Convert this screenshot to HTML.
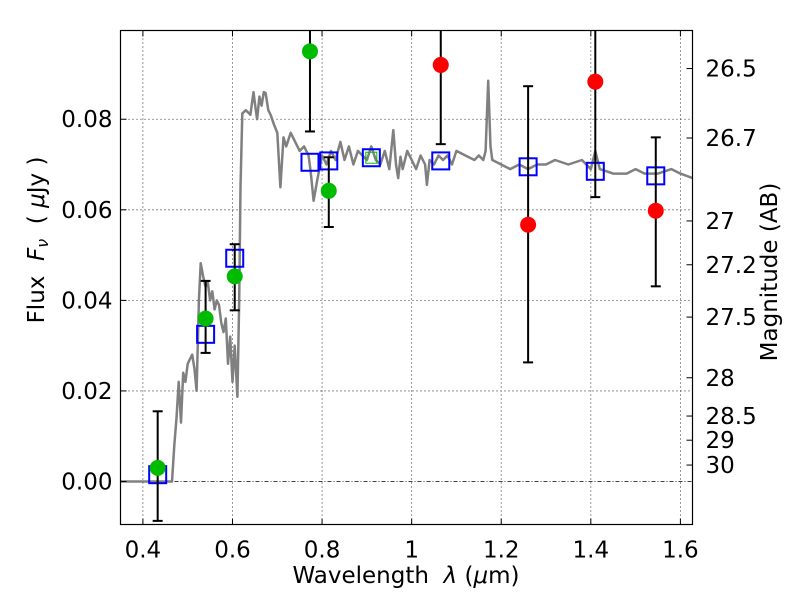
<!DOCTYPE html>
<html><head><meta charset="utf-8"><style>
body{margin:0;background:#fff;}
svg text{font-family:"DejaVu Sans","Liberation Sans",sans-serif;fill:#000;}
</style></head><body>
<svg id="chart" width="800" height="600" xmlns="http://www.w3.org/2000/svg">
<g id="grid"></g>
<g id="spec"></g>
<g id="marks"></g>
<rect x="120.5" y="30.5" width="572" height="494" fill="none" stroke="#000" stroke-width="1.2"/>
<g id="axes"></g>
<text xml:space="preserve" style="white-space:pre" x="406" y="583" font-size="23" text-anchor="middle">Wavelength  <tspan font-style="italic">λ</tspan> (<tspan font-style="italic">μ</tspan>m)</text>
<text xml:space="preserve" style="white-space:pre" transform="translate(44,240) rotate(-90)" font-size="23" text-anchor="middle">Flux  <tspan font-style="italic">F<tspan font-size="16" dy="4">ν</tspan></tspan><tspan dy="-4">  ( </tspan><tspan font-style="italic">μ</tspan>Jy )</text>
<text transform="translate(777,272) rotate(-90)" font-size="23" text-anchor="middle">Magnitude (AB)</text>
</svg>
<script>
const xTicks=[0.4,0.6,0.8,1.0,1.2,1.4,1.6];
const xTickLabels=["0.4","0.6","0.8","1","1.2","1.4","1.6"];
const yTicks=[0,0.02,0.04,0.06,0.08];
const yTickLabels=["0.00","0.02","0.04","0.06","0.08"];
const magTicks=[26.5,26.7,27,27.2,27.5,28,28.5,29,30];
const magLabels=["26.5","26.7","27","27.2","27.5","28","28.5","29","30"];
const specWave=[0.35,0.46,0.465,0.47,0.475,0.48,0.485,0.49,0.495,0.50,0.505,0.51,0.515,0.52,0.525,0.529,0.535,0.54,0.545,0.55,0.555,0.56,0.565,0.57,0.575,0.58,0.585,0.59,0.595,0.60,0.605,0.611,0.615,0.618,0.622,0.63,0.64,0.647,0.652,0.655,0.66,0.665,0.67,0.674,0.68,0.685,0.692,0.70,0.707,0.714,0.72,0.73,0.74,0.75,0.76,0.77,0.775,0.781,0.79,0.80,0.81,0.82,0.83,0.841,0.85,0.86,0.87,0.88,0.89,0.90,0.91,0.92,0.93,0.94,0.95,0.959,0.965,0.970,0.975,0.98,0.99,1.0,1.01,1.02,1.03,1.034,1.04,1.05,1.06,1.07,1.08,1.09,1.10,1.12,1.14,1.15,1.16,1.165,1.171,1.176,1.18,1.20,1.22,1.24,1.26,1.28,1.30,1.32,1.35,1.38,1.40,1.41,1.42,1.45,1.48,1.50,1.52,1.55,1.58,1.60,1.627];
const specFlux=[0,0,0,0.008,0.014,0.022,0.013,0.024,0.022,0.026,0.027,0.028,0.025,0.02,0.04,0.0482,0.045,0.043,0.044,0.04,0.042,0.038,0.04,0.039,0.035,0.033,0.036,0.026,0.032,0.022,0.03,0.0187,0.04,0.065,0.0813,0.082,0.081,0.086,0.082,0.080,0.085,0.083,0.086,0.0858,0.082,0.081,0.079,0.077,0.065,0.076,0.074,0.077,0.075,0.073,0.074,0.072,0.068,0.062,0.067,0.072,0.070,0.073,0.071,0.075,0.071,0.074,0.070,0.073,0.072,0.071,0.074,0.071,0.070,0.073,0.069,0.0776,0.07,0.067,0.0717,0.069,0.073,0.071,0.069,0.072,0.070,0.0655,0.071,0.070,0.072,0.071,0.072,0.070,0.073,0.072,0.071,0.072,0.071,0.073,0.0885,0.074,0.071,0.070,0.069,0.070,0.069,0.070,0.070,0.071,0.070,0.071,0.069,0.073,0.069,0.068,0.068,0.069,0.068,0.068,0.069,0.068,0.067];
const greenWave=[0.433,0.54,0.605,0.773,0.815];
const greenFlux=[0.003,0.036,0.0453,0.095,0.0642];
const greenLo=[-0.0087,0.0284,0.0378,0.0773,0.0562];
const greenHi=[0.0155,0.0443,0.0524,0.12,0.0716];
const redWave=[1.065,1.26,1.41,1.545];
const redFlux=[0.092,0.0567,0.0883,0.0598];
const redLo=[0.0745,0.0263,0.0628,0.0431];
const redHi=[0.12,0.0873,0.12,0.076];
const modelWave=[0.433,0.54,0.605,0.773,0.815,0.91,1.065,1.26,1.41,1.545];
const modelFlux=[0.0015,0.0325,0.0493,0.0705,0.0708,0.0715,0.0708,0.0695,0.0685,0.0675];
const extraWave=[0.91];
const extraFlux=[0.0715];

const NS="http://www.w3.org/2000/svg";
const L=120.5,R=692.5,T=30.5,B=524.5;
const X0=0.35,X1=1.627,Y0=-0.0095,Y1=0.0996;
function sx(v){return L+(v-X0)/(X1-X0)*(R-L);}
function sy(v){return B-(v-Y0)/(Y1-Y0)*(B-T);}
function mk(tag,attrs,parent){const e=document.createElementNS(NS,tag);for(const k in attrs)e.setAttribute(k,attrs[k]);parent.appendChild(e);return e;}
const grid=document.getElementById('grid'),axes=document.getElementById('axes'),spec=document.getElementById('spec'),marks=document.getElementById('marks');
xTicks.forEach((t,i)=>{const x=sx(t);
 const g=mk('line',{x1:x,x2:x,y1:T,y2:B,stroke:'#000','stroke-width':0.8,'stroke-dasharray':'1,3'},grid);
 
 
 const tk=mk('line',{x1:x,x2:x,y1:B,y2:B-6,stroke:'#000'},axes);
 
 
 mk('line',{x1:x,x2:x,y1:T,y2:T+6,stroke:'#000'},axes);
 const tx=mk('text',{x:x,y:B+33,'font-size':23,'text-anchor':'middle'},axes);tx.textContent=xTickLabels[i];
 
 
});
yTicks.forEach((t,i)=>{const y=sy(t);
 const g=mk('line',{x1:L,x2:R,y1:y,y2:y,stroke:'#000','stroke-width':0.8,'stroke-dasharray':t===0?'4,2,1,2':'1,3'},grid);
 
 
 mk('line',{x1:L,x2:L+6,y1:y,y2:y,stroke:'#000'},axes);
 const tx=mk('text',{x:L-8,y:y+8,'font-size':23,'text-anchor':'end'},axes);tx.textContent=yTickLabels[i];
 
 
});
magTicks.forEach((m,i)=>{const y=sy(Math.pow(10,(23.9-m)/2.5));
 mk('line',{x1:R,x2:R-6,y1:y,y2:y,stroke:'#000'},axes);
 const tx=mk('text',{x:R+13,y:y+8,'font-size':23},axes);tx.textContent=magLabels[i];
 
 
});
const pts=specWave.map((w,i)=>sx(w).toFixed(1)+','+sy(specFlux[i]).toFixed(1)).join(' ');
const pl=mk('polyline',{points:pts,fill:'none',stroke:'#808080','stroke-width':2.5,'stroke-linejoin':'round'},spec);


function errbar(w,lo,hi){const x=sx(w);const g=mk('g',{},marks);
 
 
 mk('line',{x1:x,x2:x,y1:sy(lo),y2:sy(hi),stroke:'#000','stroke-width':2},g);
 [lo,hi].forEach(v=>mk('line',{x1:x-5,x2:x+5,y1:sy(v),y2:sy(v),stroke:'#000','stroke-width':2},g));}
modelWave.forEach((w,i)=>{const s=mk('rect',{x:sx(w)-8.5,y:sy(modelFlux[i])-8.5,width:17,height:17,fill:'none',stroke:'#0000ff','stroke-width':2},marks);
 
 });
extraWave.forEach((w,i)=>{const s=mk('rect',{x:sx(w)-5.5,y:sy(extraFlux[i])-5.5,width:11,height:11,fill:'none',stroke:'#00bb00','stroke-width':1},marks);
 
 });
greenWave.forEach((w,i)=>{errbar(w,greenLo[i],greenHi[i]);
 const c=mk('circle',{cx:sx(w),cy:sy(greenFlux[i]),r:8,fill:'#00bb00'},marks);
 
 });
redWave.forEach((w,i)=>{errbar(w,redLo[i],redHi[i]);
 const c=mk('circle',{cx:sx(w),cy:sy(redFlux[i]),r:8,fill:'#ff0000'},marks);
 
 });
const clip=mk('clipPath',{id:'pc'},document.getElementById('chart'));
mk('rect',{x:L,y:T,width:R-L,height:B-T},clip);
marks.setAttribute('clip-path','url(#pc)');spec.setAttribute('clip-path','url(#pc)');
</script>
</body></html>
